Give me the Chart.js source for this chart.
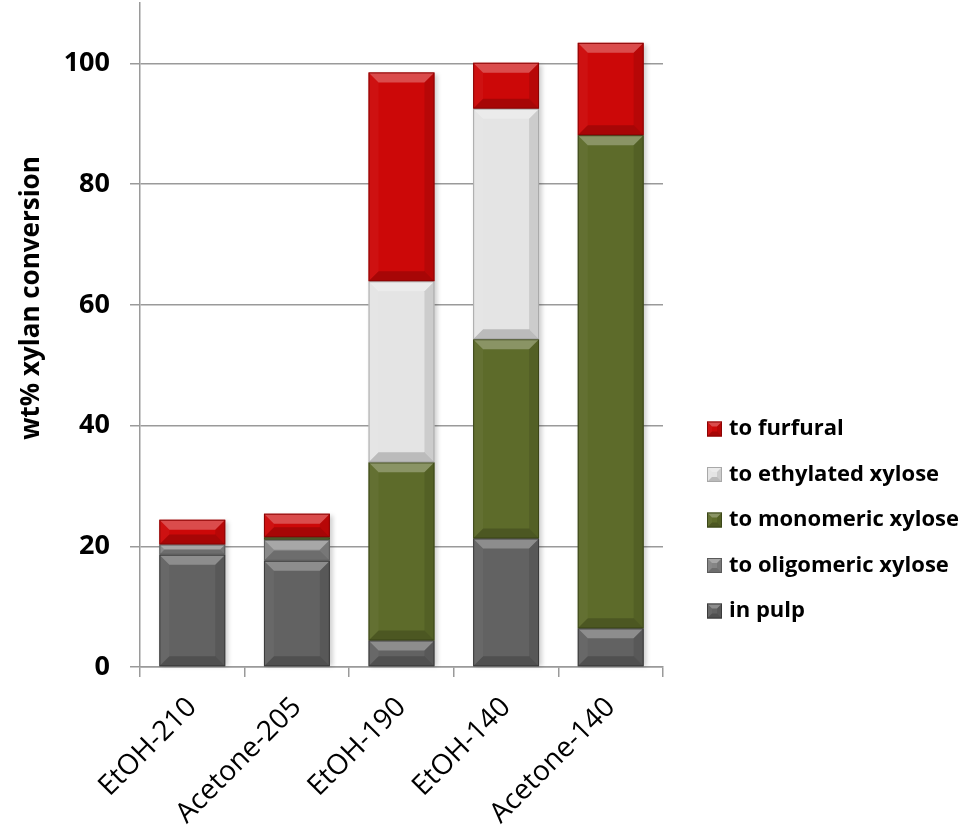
<!DOCTYPE html>
<html>
<head>
<meta charset="utf-8">
<script src="https://cdn.jsdelivr.net/npm/chart.js@4"></script>
<style>
  html, body { margin: 0; padding: 0; background: #ffffff; }
  #wrap { width: 972px; height: 827px; }
</style>
</head>
<body>
<div id="wrap"><canvas id="chart" width="972" height="827"></canvas></div>
<script>
// Xylan fate per pretreatment condition (wt% of initial xylan)
const categories = ['EtOH-210', 'Acetone-205', 'EtOH-190', 'EtOH-140', 'Acetone-140'];
const inPulp      = [18.6, 17.6,  4.4, 21.3,  6.4];
const oligomeric  = [ 1.7,  3.5,  0.0,  0.0,  0.0];
const monomeric   = [ 0.0,  0.4, 29.5, 33.0, 81.7];
const ethylated   = [ 0.0,  0.0, 30.0, 38.2,  0.0];
const furfural    = [ 4.1,  3.9, 34.6,  7.6, 15.3];
const yTicks      = [0, 20, 40, 60, 80, 100];
const yTitle      = 'wt% xylan conversion';

const seriesNames = ['in pulp', 'to oligomeric xylose', 'to monomeric xylose', 'to ethylated xylose', 'to furfural'];
const seriesData  = [inPulp, oligomeric, monomeric, ethylated, furfural];
const fills   = ['#626262', '#858585', '#5d6b2a', '#e4e4e4', '#cc0808'];
const borders = ['#3a3a3a', '#5a5a5a', '#3b4618', '#a8a8a8', '#8a0404'];

const FONT = '"Open Sans", "DejaVu Sans", sans-serif';
const AXIS_GRAY = '#9a9a9a';

// Bevelled face drawn over each bar segment
function bevel(ctx, l, t, r, b, size) {
  const w = r - l, h = b - t;
  if (w <= 0 || h <= 0.3) return;
  const s = Math.min(size, h / 2, w / 2);
  ctx.save();
  // top facet (lit)
  ctx.beginPath();
  ctx.moveTo(l, t); ctx.lineTo(r, t); ctx.lineTo(r - s, t + s); ctx.lineTo(l + s, t + s); ctx.closePath();
  ctx.fillStyle = 'rgba(255,255,255,0.28)'; ctx.fill();
  // left facet
  ctx.beginPath();
  ctx.moveTo(l, t); ctx.lineTo(l + s, t + s); ctx.lineTo(l + s, b - s); ctx.lineTo(l, b); ctx.closePath();
  ctx.fillStyle = 'rgba(255,255,255,0.04)'; ctx.fill();
  // right facet
  ctx.beginPath();
  ctx.moveTo(r, t); ctx.lineTo(r - s, t + s); ctx.lineTo(r - s, b - s); ctx.lineTo(r, b); ctx.closePath();
  ctx.fillStyle = 'rgba(0,0,0,0.10)'; ctx.fill();
  // bottom facet (shaded)
  ctx.beginPath();
  ctx.moveTo(l, b); ctx.lineTo(r, b); ctx.lineTo(r - s, b - s); ctx.lineTo(l + s, b - s); ctx.closePath();
  ctx.fillStyle = 'rgba(0,0,0,0.18)'; ctx.fill();
  ctx.restore();
}

function barBox(bar) {
  const p = bar.getProps(['x', 'y', 'base', 'width'], true);
  return {
    l: p.x - p.width / 2, r: p.x + p.width / 2,
    t: Math.min(p.y, p.base), b: Math.max(p.y, p.base)
  };
}

// Soft drop shadow behind each stacked column
const shadowPlugin = {
  id: 'columnShadow',
  beforeDatasetsDraw(chart) {
    const ctx = chart.ctx;
    const n = chart.data.labels.length;
    for (let j = 0; j < n; j++) {
      let l = Infinity, r = -Infinity, t = Infinity, b = -Infinity;
      chart.data.datasets.forEach((ds, i) => {
        const bx = barBox(chart.getDatasetMeta(i).data[j]);
        if (bx.b - bx.t <= 0.3) return;
        l = Math.min(l, bx.l); r = Math.max(r, bx.r);
        t = Math.min(t, bx.t); b = Math.max(b, bx.b);
      });
      if (!isFinite(l)) continue;
      ctx.save();
      ctx.filter = 'blur(2px)';
      ctx.fillStyle = 'rgba(0,0,0,0.18)';
      ctx.fillRect(l + 2, t + 2, r - l + 1, b - t - 2);
      ctx.restore();
    }
  }
};

const bevelPlugin = {
  id: 'bevelBars',
  afterDatasetsDraw(chart) {
    const ctx = chart.ctx;
    chart.data.datasets.forEach((ds, i) => {
      const meta = chart.getDatasetMeta(i);
      if (meta.hidden) return;
      meta.data.forEach(bar => {
        const { l, r, t, b } = barBox(bar);
        bevel(ctx, l, t, r, b, 10);
        if (b - t > 0.3) {
          ctx.save();
          ctx.strokeStyle = ds.borderColor;
          ctx.lineWidth = 1;
          ctx.strokeRect(l + 0.5, t + 0.5, r - l - 1, b - t - 1);
          ctx.restore();
        }
      });
    });
  }
};

// Rotated y-axis title
const yTitlePlugin = {
  id: 'yTitle',
  afterDraw(chart, args, opts) {
    const ctx = chart.ctx;
    ctx.save();
    ctx.translate(opts.x, opts.y);
    ctx.rotate(-Math.PI / 2);
    ctx.font = 'bold 26px ' + FONT;
    ctx.fillStyle = '#000000';
    ctx.textAlign = 'center';
    ctx.textBaseline = 'middle';
    ctx.fillText(opts.text, 0, 0);
    ctx.restore();
  }
};

// Legend on the right, top entry = top segment
const sideLegend = {
  id: 'sideLegend',
  afterDraw(chart, args, opts) {
    const ctx = chart.ctx;
    const ds = chart.data.datasets.slice().reverse();
    ctx.save();
    ctx.font = 'bold 22px ' + FONT;
    ctx.textBaseline = 'middle';
    ctx.textAlign = 'left';
    ds.forEach((d, k) => {
      const cy = opts.top + k * opts.gap;
      const bs = 15, bx = opts.left, by = cy - bs / 2;
      ctx.fillStyle = d.backgroundColor;
      ctx.fillRect(bx, by, bs, bs);
      bevel(ctx, bx, by, bx + bs, by + bs, 5);
      ctx.strokeStyle = d.borderColor;
      ctx.lineWidth = 1;
      ctx.strokeRect(bx + 0.5, by + 0.5, bs - 1, bs - 1);
      ctx.fillStyle = '#000000';
      ctx.fillText(d.label, bx + bs + 7, cy);
    });
    ctx.restore();
  }
};

const datasets = seriesNames.map((name, i) => ({
  label: name,
  data: seriesData[i],
  backgroundColor: fills[i],
  borderColor: borders[i],
  borderWidth: 0,
  categoryPercentage: 1.0,
  barPercentage: 0.63
}));

new Chart(document.getElementById('chart'), {
  type: 'bar',
  data: { labels: categories, datasets },
  plugins: [shadowPlugin, bevelPlugin, yTitlePlugin, sideLegend],
  options: {
    responsive: false,
    animation: false,
    layout: { padding: { top: 3, right: 309, left: 0, bottom: 0 } },
    plugins: {
      legend: { display: false },
      tooltip: { enabled: false },
      sideLegend: { left: 707, top: 429, gap: 45.5 },
      yTitle: { text: yTitle, x: 32, y: 298 }
    },
    scales: {
      x: {
        stacked: true,
        afterFit(scale) {
          scale.height = 160;
          scale.paddingLeft = 0; scale.paddingRight = 0;
        },
        grid: {
          offset: true,
          drawOnChartArea: false,
          drawTicks: true,
          tickLength: 10,
          color: AXIS_GRAY,
          lineWidth: 1.5
        },
        border: { color: AXIS_GRAY, width: 1.5 },
        ticks: {
          minRotation: 45,
          maxRotation: 45,
          padding: 14,
          color: '#000000',
          font: { family: FONT, size: 28, weight: 'normal' }
        }
      },
      y: {
        stacked: true,
        min: 0,
        max: 110,
        afterFit(scale) {
          scale.width = 140;
          scale.paddingTop = 0; scale.paddingBottom = 0;
        },
        afterBuildTicks(scale) {
          scale.ticks = yTicks.map(v => ({ value: v }));
        },
        grid: {
          color: AXIS_GRAY,
          lineWidth: 1.5,
          tickLength: 10,
          drawTicks: true
        },
        border: { color: AXIS_GRAY, width: 1.5 },
        ticks: {
          padding: 20,
          color: '#000000',
          font: { family: FONT, size: 27, weight: 'bold' }
        },
        title: { display: false }
      }
    }
  }
});
</script>
</body>
</html>
